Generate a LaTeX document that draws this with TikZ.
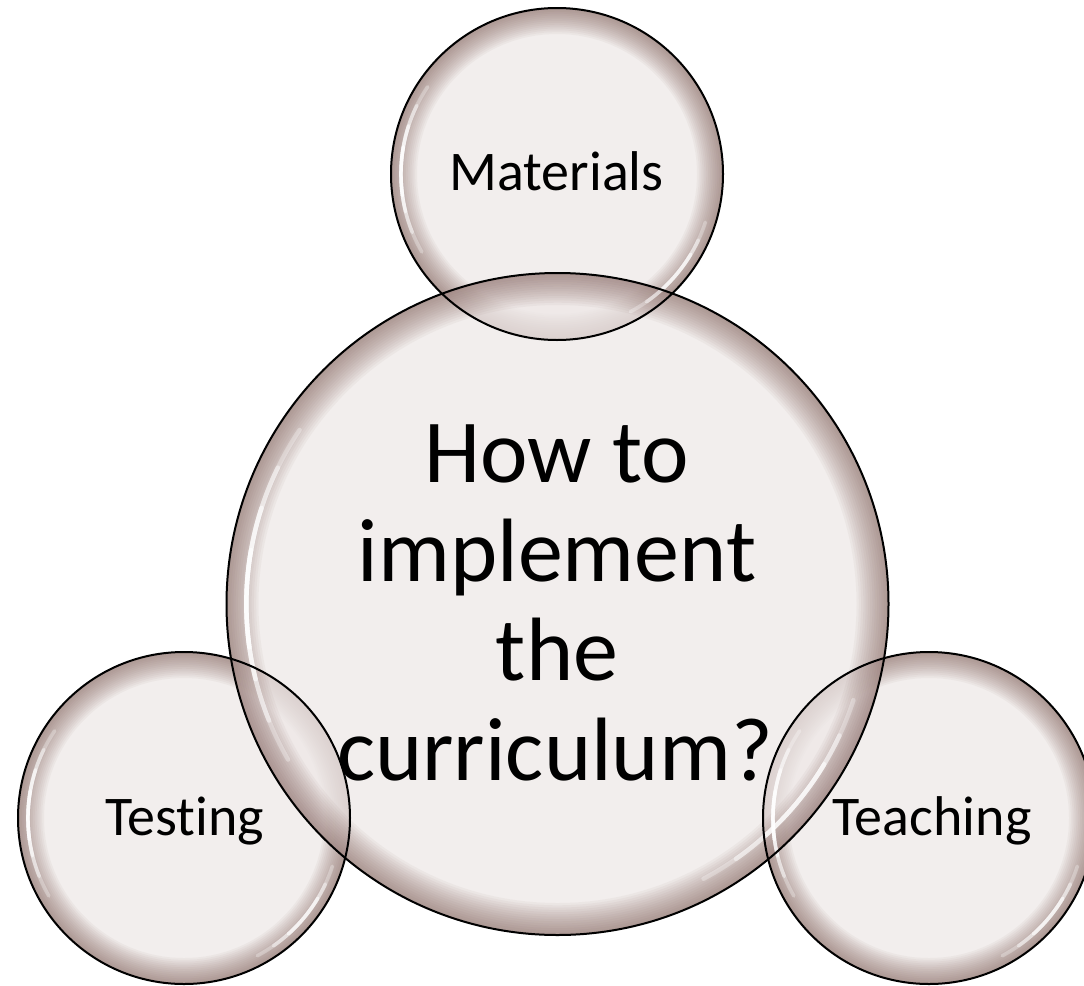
\documentclass[tikz,border=0pt]{standalone}
\usepackage{fontspec}
\setmainfont{Carlito}[Ligatures=NoCommon]
\usetikzlibrary{calc}
\definecolor{bin}{RGB}{238,232,231}
\definecolor{bedge}{RGB}{120,84,78}
\tikzset{
  rim/.style={draw=black, line width=2pt},
  shine/.style={draw=white, line cap=round},
  smalllabel/.style={font=\fontsize{56}{62}\selectfont, anchor=base, inner sep=0pt},
  biglabel/.style={font=\fontsize{90}{99}\selectfont, align=center, anchor=base, inner sep=0pt},
}
% #1 centre, #2 radius, #3 band width
\newcommand{\bubbledisc}[3]{%
  \begin{scope}
    \clip (#1) circle[radius=#2];
    \fill[bin, fill opacity=0.72] (#1) circle[radius=#2];
    \foreach \k in {1,...,14}{
      \draw[bedge, draw opacity=0.05, line width=2*#3*\k/14]
        (#1) circle[radius=#2];
    }
  \end{scope}
}
\newcommand{\bubbleshine}[3]{% centre, radius, width
  \foreach \a/\b/\o in {150/214/0.3,158/206/0.45,166/198/0.6,172/190/0.75, 18/62/0.3,25/55/0.45,31/48/0.6}{
    \draw[shine, line width=#3, draw opacity=\o]
      ($(#1)+(\a:0.94*#2)$) arc[start angle=\a, end angle=\b, radius=0.94*#2];
  }
}
\begin{document}
\begin{tikzpicture}[x=1pt,y=-1pt]
\useasboundingbox (0,0) rectangle (1084,985);
\fill[white] (0,0) rectangle (1084,985);
% centres
\coordinate (cM) at (557,174);
\coordinate (cT) at (184,818);
\coordinate (cR) at (929,818);
\coordinate (cB) at (557.5,604);
% fills
\bubbledisc{cM}{166}{26}
\bubbledisc{cT}{166}{26}
\bubbledisc{cR}{166}{26}
\bubbledisc{cB}{331}{32}
% highlights
\bubbleshine{cM}{166}{3.5pt}
\bubbleshine{cT}{166}{3.5pt}
\bubbleshine{cR}{166}{3.5pt}
\bubbleshine{cB}{331}{4.5pt}
% outlines
\draw[rim] (cM) circle[radius=166];
\draw[rim] (cT) circle[radius=166];
\draw[rim] (cR) circle[radius=166];
\draw[rim] (cB) circle[radius=331];
% labels
\node[smalllabel] (mat) at (556.5,190) {Materials};
\node[smalllabel] (tes) at (184.5,835) {Testing};
\node[smalllabel] (tea) at (932,835) {Teaching};
\node[biglabel] (how) at (557,482) {How to};
\node[biglabel] (imp) at (557,581) {implement};
\node[biglabel] (the) at (557,680) {the};
\node[biglabel] (cur) at (555,780) {curriculum?};
\end{tikzpicture}
\end{document}
